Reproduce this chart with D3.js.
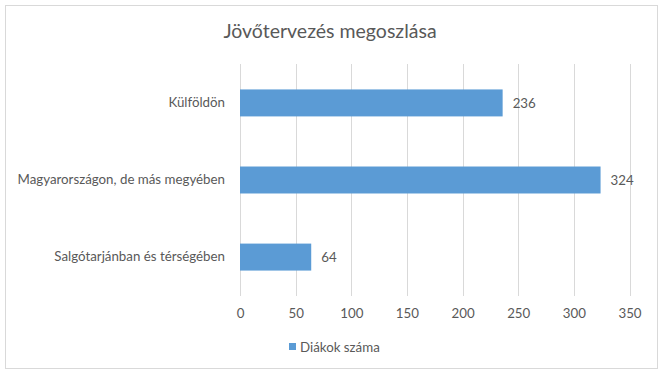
<!DOCTYPE html>
<html>
<head>
<meta charset="utf-8">
<script src="https://cdn.jsdelivr.net/npm/d3@7"></script>
<style>
  body { margin: 0; background: #fff; }
  svg text { font-family: Lato, "Open Sans", sans-serif; fill: #595959; }
  .grid line { stroke: #d9d9d9; }
  .bar { fill: #5b9bd5; }
</style>
</head>
<body>
<div id="chart"></div>
<script>
var w = 659;
var h = 377;

var categories = ["Külföldön", "Magyarországon, de más megyében", "Salgótarjánban és térségében"];
var values = [236, 324, 64];
var xTicks = [0, 50, 100, 150, 200, 250, 300, 350];
var seriesName = "Diákok száma";
var title = "Jövőtervezés megoszlása";

var plotLeft = 240, plotRight = 629.5, plotTop = 64, plotBottom = 296;
var fs = "13.3px";

var dataset = categories.map(function(c, i) { return { cat: c, value: values[i] }; });

var svg = d3.select("#chart").append("svg")
  .attr("width", w)
  .attr("height", h);

// chart border
svg.append("rect")
  .attr("x", 5.5).attr("y", 5.5)
  .attr("width", 652).attr("height", 363)
  .attr("fill", "#fff")
  .attr("stroke", "#d9d9d9");

svg.append("text")
  .attr("x", 330)
  .attr("y", 38)
  .attr("text-anchor", "middle")
  .style("font-size", "19.5px")
  .text(title);

var xScale = d3.scaleLinear()
  .domain([0, 350])
  .range([plotLeft, plotRight]);

var yScale = d3.scaleBand()
  .domain(categories)
  .range([plotTop, plotBottom])
  .paddingInner(0.65)
  .paddingOuter(0.33);

// gridlines
svg.append("g")
  .attr("class", "grid")
  .selectAll("line")
  .data(xTicks)
  .enter().append("line")
  .attr("x1", function(d) { return Math.round(xScale(d)) + 0.5; })
  .attr("x2", function(d) { return Math.round(xScale(d)) + 0.5; })
  .attr("y1", plotTop)
  .attr("y2", plotBottom);

// bars
svg.selectAll(".bar")
  .data(dataset)
  .enter().append("rect")
  .attr("class", "bar")
  .attr("x", xScale(0))
  .attr("y", function(d) { return yScale(d.cat); })
  .attr("width", function(d) { return xScale(d.value) - xScale(0); })
  .attr("height", yScale.bandwidth());

// value labels
svg.selectAll(".val")
  .data(dataset)
  .enter().append("text")
  .attr("class", "val")
  .attr("x", function(d) { return xScale(d.value) + 10; })
  .attr("y", function(d) { return yScale(d.cat) + yScale.bandwidth() / 2; })
  .attr("dy", "0.35em")
  .style("font-size", fs)
  .text(function(d) { return d.value; });

// category labels
var yAxis = d3.axisLeft(yScale).tickSize(0).tickPadding(15);
var gy = svg.append("g")
  .attr("transform", "translate(" + plotLeft + ",0)")
  .call(yAxis);
gy.select(".domain").remove();
gy.selectAll("text").style("font-size", fs).style("fill", "#595959")
  .style("font-family", "Lato, 'Open Sans', sans-serif");

// x axis labels
var xAxis = d3.axisBottom(xScale).tickValues(xTicks).tickSize(0).tickPadding(13);
var gx = svg.append("g")
  .attr("transform", "translate(0," + plotBottom + ")")
  .call(xAxis);
gx.select(".domain").remove();
gx.selectAll("text").style("font-size", fs).style("fill", "#595959")
  .style("font-family", "Lato, 'Open Sans', sans-serif");

// legend
svg.append("rect")
  .attr("x", 289).attr("y", 343)
  .attr("width", 7).attr("height", 7)
  .attr("class", "bar");
svg.append("text")
  .attr("x", 300)
  .attr("y", 347)
  .attr("dy", "0.35em")
  .style("font-size", fs)
  .text(seriesName);
</script>
</body>
</html>
